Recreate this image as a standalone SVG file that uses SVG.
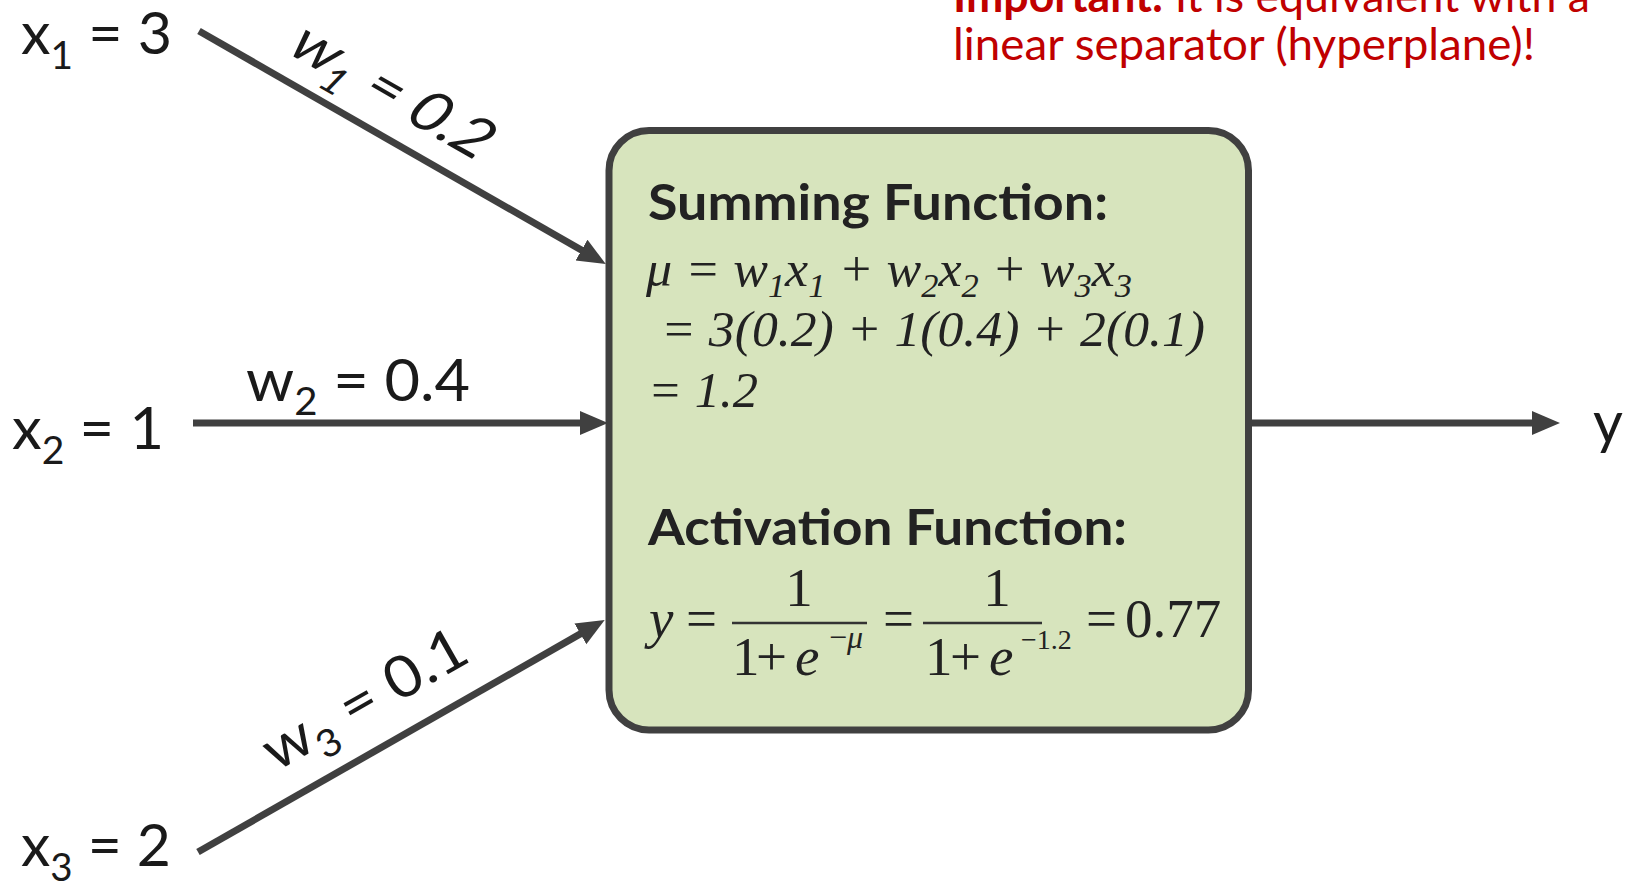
<svg xmlns="http://www.w3.org/2000/svg" width="1629" height="884" viewBox="0 0 1629 884">
<style>
.sans{font-family:Lato,"Open Sans","Liberation Sans",sans-serif;fill:#1a1a1a}
.lbl{font-size:58px}
.sub{font-size:38px}
.head{font-family:Lato,"Open Sans","Liberation Sans",sans-serif;font-weight:bold;font-size:50px;fill:#222}
.math{font-family:"Liberation Serif","Times New Roman",serif;fill:#222}
.it{font-style:italic}
.red{font-family:Lato,"Open Sans","Liberation Sans",sans-serif;font-size:45px;fill:#c00000}
.edge{stroke:#404040;stroke-width:7;fill:none}
.bar{stroke:#333;stroke-width:2.5}
</style>
<defs>
<marker id="ah" markerUnits="userSpaceOnUse" markerWidth="30" markerHeight="26" refX="6" refY="12" orient="auto">
<path d="M0,0 L28,12 L0,24 Z" fill="#404040"/>
</marker>
</defs>
<rect width="1629" height="884" fill="#ffffff"/>

<g id="note">
<text class="red" x="953" y="12" textLength="637" lengthAdjust="spacingAndGlyphs"><tspan font-weight="bold">Important:</tspan> It is equivalent with a</text>
<text class="red" x="953" y="60" textLength="582" lengthAdjust="spacingAndGlyphs">linear separator (hyperplane)!</text>
</g>

<g id="connectors">
<line class="edge" x1="199" y1="31" x2="586.7" y2="253.1" marker-end="url(#ah)"/>
<line class="edge" x1="193" y1="423" x2="586" y2="423" marker-end="url(#ah)"/>
<line class="edge" x1="198" y1="852" x2="585.6" y2="630.9" marker-end="url(#ah)"/>
<line class="edge" x1="1249" y1="423" x2="1538" y2="423" marker-end="url(#ah)"/>
<text class="sans lbl" transform="translate(284,51) rotate(29.8) skewX(-14)" textLength="220" lengthAdjust="spacingAndGlyphs">w<tspan class="sub" dy="14">1</tspan><tspan dy="-14"> = 0.2</tspan></text>
<text class="sans lbl" x="246" y="401" textLength="224" lengthAdjust="spacingAndGlyphs">w<tspan class="sub" dy="14">2</tspan><tspan dy="-14"> = 0.4</tspan></text>
<text class="sans lbl" transform="translate(276,772) rotate(-29.6)" textLength="226" lengthAdjust="spacingAndGlyphs">w<tspan class="sub" dy="14">3</tspan><tspan dy="-14"> = 0.1</tspan></text>
</g>

<g id="x1">
<text class="sans lbl" x="21" y="54" textLength="151" lengthAdjust="spacingAndGlyphs">x<tspan class="sub" dy="15">1</tspan><tspan dy="-15"> = 3</tspan></text>
</g>
<g id="x2">
<text class="sans lbl" x="12" y="449" textLength="152" lengthAdjust="spacingAndGlyphs">x<tspan class="sub" dy="15">2</tspan><tspan dy="-15"> = 1</tspan></text>
</g>
<g id="x3">
<text class="sans lbl" x="21" y="866" textLength="150" lengthAdjust="spacingAndGlyphs">x<tspan class="sub" dy="15">3</tspan><tspan dy="-15"> = 2</tspan></text>
</g>
<g id="y-out">
<text class="sans lbl" x="1593" y="443">y</text>
</g>

<g id="neuron">
<rect x="609" y="130.5" width="639.5" height="599.5" rx="40" ry="40" fill="#d7e4bd" stroke="#404040" stroke-width="7"/>
<text class="head" x="648" y="220" textLength="460" lengthAdjust="spacingAndGlyphs">Summing Function:</text>
<text class="math it" x="646" y="286" font-size="50" textLength="486" lengthAdjust="spacingAndGlyphs">μ = w<tspan font-size="33" dy="11">1</tspan><tspan dy="-11">x</tspan><tspan font-size="33" dy="11">1</tspan><tspan dy="-11"> + w</tspan><tspan font-size="33" dy="11">2</tspan><tspan dy="-11">x</tspan><tspan font-size="33" dy="11">2</tspan><tspan dy="-11"> + w</tspan><tspan font-size="33" dy="11">3</tspan><tspan dy="-11">x</tspan><tspan font-size="33" dy="11">3</tspan></text>
<text class="math it" x="661" y="346" font-size="50" textLength="544" lengthAdjust="spacingAndGlyphs">= 3(0.2) + 1(0.4) + 2(0.1)</text>
<text class="math it" x="648" y="407" font-size="50" textLength="110" lengthAdjust="spacingAndGlyphs">= 1.2</text>
<text class="head" x="648" y="545" textLength="479" lengthAdjust="spacingAndGlyphs">Activation Function:</text>
<g class="math" font-size="55">
<text class="it" x="649" y="637">y</text>
<text x="686" y="637">=</text>
<line class="bar" x1="732" y1="623" x2="867" y2="623"/>
<text x="799" y="606" text-anchor="middle">1</text>
<text x="732" y="675">1</text>
<text x="756" y="675">+</text>
<text class="it" x="795" y="675">e</text>
<text x="829" y="648" font-size="32">−<tspan class="it">μ</tspan></text>
<text x="883" y="637">=</text>
<line class="bar" x1="923" y1="623" x2="1042" y2="623"/>
<text x="997" y="606" text-anchor="middle">1</text>
<text x="925" y="675">1</text>
<text x="950" y="675">+</text>
<text class="it" x="989" y="675">e</text>
<text x="1021" y="649" font-size="28">−1.2</text>
<text x="1086" y="637">=</text>
<text x="1125" y="637" font-size="55">0.77</text>
</g>
</g>
</svg>
